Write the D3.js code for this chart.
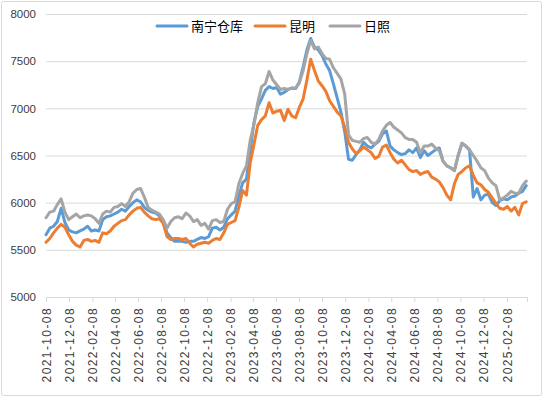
<!DOCTYPE html>
<html>
<head>
<meta charset="utf-8">
<script src="https://cdn.jsdelivr.net/npm/d3@7"></script>
<style>
  body { margin: 0; background: #fff; }
  #chart text { font-family: "Liberation Sans", Arial, sans-serif; }
</style>
</head>
<body>
<div id="chart"></div>
<script>
// data, one point every 10 days from the start date
const startDate = "2021-10-08";
const stepDays = 10;

const seriesNames = ["南宁仓库", "昆明", "日照"];
const seriesColors = ["#5B9BD5", "#ED7D31", "#A5A5A5"];

const nanning = [
  5660,5730,5750,5800,5940,5790,5710,5690,5680,5700,5720,5750,5700,5710,5700,5820,
  5850,5860,5880,5900,5930,5910,5960,6000,6030,6010,5950,5920,5900,5890,5860,5800,
  5680,5630,5590,5590,5590,5580,5590,5590,5610,5630,5620,5640,5730,5740,5710,5740,
  5830,5870,5910,6070,6210,6250,6550,6850,7020,7100,7190,7230,7210,7220,7150,7170,
  7200,7215,7210,7280,7440,7620,7740,7650,7620,7560,7470,7400,7260,7110,6960,6750,
  6460,6450,6510,6560,6640,6600,6580,6620,6650,6730,6760,6600,6560,6530,6510,6520,
  6560,6530,6580,6480,6550,6500,6530,6560,6580,6440,6390,6370,6340,6500,6630,6600,
  6560,6060,6150,6030,6080,6090,6000,5970,6020,6040,6030,6060,6070,6100,6120,6180
];
const kunming = [
  5580,5620,5680,5730,5770,5740,5660,5590,5550,5530,5600,5610,5590,5600,5580,5680,
  5670,5700,5750,5780,5810,5820,5870,5910,5940,5950,5900,5860,5830,5820,5830,5780,
  5640,5610,5620,5620,5610,5620,5570,5530,5560,5570,5580,5570,5600,5620,5610,5680,
  5770,5790,5810,5950,6130,6080,6420,6620,6820,6880,6920,7060,6950,6970,6980,6870,
  6990,6920,6900,7010,7100,7300,7520,7400,7290,7240,7180,7080,7020,6960,6920,6800,
  6640,6570,6520,6550,6590,6560,6530,6470,6490,6590,6610,6530,6460,6420,6450,6400,
  6350,6330,6340,6300,6320,6330,6270,6250,6220,6160,6080,6030,6200,6300,6330,6370,
  6390,6290,6210,6190,6140,6110,6050,5990,5940,5930,5960,5910,5950,5870,5990,6010
];
const rizhao = [
  5840,5900,5910,5980,6040,5900,5820,5850,5880,5840,5860,5870,5860,5830,5780,5880,
  5910,5900,5950,5960,5990,5960,6010,6100,6140,6150,6060,5950,5920,5900,5880,5820,
  5730,5800,5840,5850,5830,5890,5860,5800,5820,5760,5780,5720,5810,5820,5790,5800,
  5930,5990,6010,6200,6310,6390,6660,6830,7060,7230,7260,7390,7300,7250,7200,7210,
  7200,7215,7210,7270,7400,7580,7720,7630,7650,7580,7530,7520,7430,7370,7310,7150,
  6720,6660,6650,6640,6680,6690,6640,6620,6670,6760,6820,6850,6800,6770,6740,6690,
  6670,6670,6640,6530,6600,6600,6620,6580,6550,6440,6390,6370,6340,6500,6630,6600,
  6560,6500,6440,6370,6340,6260,6210,6180,6030,6050,6080,6120,6100,6100,6180,6230
];

const yTicks = [5000, 5500, 6000, 6500, 7000, 7500, 8000];
const xTickLabels = [
  "2021-10-08","2021-12-08","2022-02-08","2022-04-08","2022-06-08","2022-08-08",
  "2022-10-08","2022-12-08","2023-02-08","2023-04-08","2023-06-08","2023-08-08",
  "2023-10-08","2023-12-08","2024-02-08","2024-04-08","2024-06-08","2024-08-08",
  "2024-10-08","2024-12-08","2025-02-08"
];

const parse = d3.timeParse("%Y-%m-%d");
const start = parse(startDate);
const dates = nanning.map((v, i) => d3.timeDay.offset(start, i * stepDays));
const series = [nanning, kunming, rizhao].map(vals => vals.map((v, i) => ({date: dates[i], v: v})));

const width = 543, height = 397;
const margin = {top: 14, right: 16, bottom: 100, left: 46};

const svg = d3.select("#chart")
    .append("svg")
    .attr("width", width)
    .attr("height", height);

// chart border
svg.append("rect")
    .attr("x", 1.5).attr("y", 1.5)
    .attr("width", width - 3).attr("height", height - 3)
    .attr("rx", 2)
    .attr("fill", "#fff")
    .attr("stroke", "#d9d9d9");

const x = d3.scaleTime()
    .domain([start, d3.timeDay.offset(start, 1272)])
    .range([margin.left, width - margin.right]);

const y = d3.scaleLinear()
    .domain([5000, 8000])
    .range([297, margin.top]);

// y axis + gridlines
const gy = svg.append("g")
    .attr("transform", `translate(${margin.left},0)`)
    .call(d3.axisLeft(y).tickValues(yTicks).tickSize(-(x.range()[1] - x.range()[0])).tickPadding(10).tickFormat(d3.format("d")));
gy.select(".domain").remove();
gy.selectAll("line").attr("stroke", "#d9d9d9");
gy.selectAll("text").attr("fill", "#404040").style("font-size", "11.5px");

// x axis
const gx = svg.append("g")
    .attr("transform", "translate(0,297)")
    .call(d3.axisBottom(x).tickValues(xTickLabels.map(parse)).tickSize(5).tickFormat(d3.timeFormat("%Y-%m-%d")));
gx.select(".domain").attr("stroke", "#d9d9d9");
gx.selectAll("line").attr("stroke", "#d9d9d9");
gx.selectAll("text")
    .attr("transform", "rotate(-90)")
    .attr("x", -10)
    .attr("y", 0)
    .attr("dy", "0.35em")
    .style("text-anchor", "end")
    .style("font-size", "12px")
    .style("letter-spacing", "1.4px")
    .attr("fill", "#404040");

const line = d3.line()
    .x(d => x(d.date))
    .y(d => y(d.v));

series.forEach((s, k) => {
  svg.append("path")
      .datum(s)
      .attr("fill", "none")
      .attr("stroke", seriesColors[k])
      .attr("stroke-width", 3)
      .attr("stroke-linejoin", "round")
      .attr("stroke-linecap", "round")
      .attr("d", line);
});

// legend
const legendX = [157, 255, 330];
const legend = svg.append("g");
seriesNames.forEach((name, k) => {
  legend.append("line")
      .attr("x1", legendX[k]).attr("x2", legendX[k] + 30)
      .attr("y1", 26).attr("y2", 26)
      .attr("stroke", seriesColors[k])
      .attr("stroke-width", 3)
      .attr("stroke-linecap", "round");
  legend.append("text")
      .attr("x", legendX[k] + 34)
      .attr("y", 26)
      .attr("dy", "0.35em")
      .style("font-family", "'Noto Sans CJK SC', sans-serif")
      .style("font-size", "13px")
      .attr("fill", "#000")
      .text(name);
});
</script>
</body>
</html>
